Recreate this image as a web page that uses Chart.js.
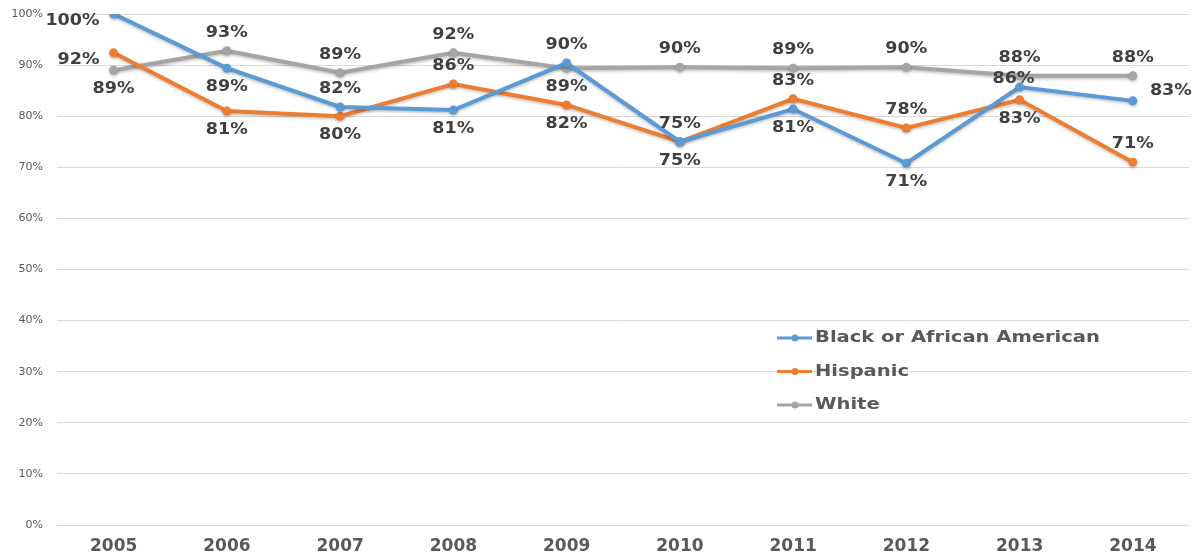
<!DOCTYPE html>
<html>
<head>
<meta charset="utf-8">
<script src="https://cdn.jsdelivr.net/npm/chart.js@4.4.1/dist/chart.umd.min.js"></script>
<style>
  html, body { margin: 0; padding: 0; background: #fff; }
  .wrap { position: relative; width: 1194px; height: 555px; }
</style>
</head>
<body>
<div class="wrap"><canvas id="myChart"></canvas></div>
<script>
const years = ["2005", "2006", "2007", "2008", "2009", "2010", "2011", "2012", "2013", "2014"];
const seriesNames = ["Black or African American", "Hispanic", "White"];
const blackValues = [100, 89.4, 81.8, 81.2, 90.4, 75.0, 81.4, 70.8, 85.7, 83.0];
const hispanicValues = [92.4, 81.0, 80.0, 86.3, 82.2, 75.0, 83.4, 77.7, 83.2, 71.0];
const whiteValues = [89.0, 92.8, 88.5, 92.4, 89.4, 89.6, 89.4, 89.6, 87.9, 87.9];
const yTicks = [0, 10, 20, 30, 40, 50, 60, 70, 80, 90, 100];

// where each data label sits relative to its point
const blackSides = ["left", "below", "above", "below", "above", "below", "below", "below", "near", "right"];
const hispanicSides = ["left", "below", "below", "above", "below", "above", "above", "above", "below", "above"];
const whiteSides = ["below", "above", "above", "above", "below", "above", "above", "above", "above", "above"];

const colors = ["#5B9BD5", "#ED7D31", "#A5A5A5"];

const ctx = document.getElementById("myChart");

// soft shadow under the lines, like the office chart
const lineShadow = {
  id: "lineShadow",
  beforeDatasetsDraw(chart) {
    const c = chart.ctx;
    c.save();
    c.shadowColor = "rgba(0, 0, 0, 0.25)";
    c.shadowBlur = 3;
    c.shadowOffsetY = 1.5;
  },
  afterDatasetsDraw(chart) {
    chart.ctx.restore();
  },
};

const dataLabels = {
  id: "dataLabels",
  afterDatasetsDraw(chart) {
    const c = chart.ctx;
    c.save();
    c.shadowColor = "transparent";
    c.font = "bold 15px 'DejaVu Sans'";
    c.fillStyle = "#404040";
    c.textBaseline = "middle";
    chart.data.datasets.forEach((ds, i) => {
      const meta = chart.getDatasetMeta(i);
      meta.data.forEach((pt, j) => {
        const text = Math.round(ds.data[j]) + "%";
        const side = ds.labelSides[j];
        let x = pt.x, y = pt.y, align = "center";
        if (side === "above") y -= 18;
        if (side === "near") { x -= 6; y -= 8; }
        if (side === "below") y += 19;
        if (side === "left") { x -= 14; y += 7; align = "right"; }
        if (side === "right") { x += 17; y -= 10; align = "left"; }
        c.save();
        c.translate(x, y);
        c.scale(1.17, 1);
        c.textAlign = align;
        c.fillText(text, 0, 0);
        c.restore();
      });
    });
    c.restore();
  },
};

const insideLegend = {
  id: "insideLegend",
  afterDraw(chart) {
    const c = chart.ctx;
    c.save();
    c.font = "bold 16px 'DejaVu Sans'";
    c.textBaseline = "middle";
    chart.data.datasets.forEach((ds, i) => {
      const y = 338 + i * 33.5;
      c.strokeStyle = ds.borderColor;
      c.lineWidth = 3;
      c.beginPath();
      c.moveTo(777, y);
      c.lineTo(812, y);
      c.stroke();
      c.fillStyle = ds.borderColor;
      c.beginPath();
      c.arc(795, y, 3.5, 0, Math.PI * 2);
      c.fill();
      c.fillStyle = "#595959";
      c.save();
      c.translate(815, y);
      c.scale(1.22, 1);
      c.textAlign = "left";
      c.fillText(ds.label, 0, 0);
      c.restore();
    });
    c.restore();
  },
};

const makeSet = (i, values, sides) => ({
  label: seriesNames[i],
  data: values,
  labelSides: sides,
  borderColor: colors[i],
  backgroundColor: colors[i],
  borderWidth: 4,
  pointRadius: 4.5,
  pointHoverRadius: 4.5,
  pointBorderWidth: 0,
  tension: 0,
  fill: false,
});

new Chart(ctx, {
  type: "line",
  data: {
    labels: years,
    datasets: [
      makeSet(0, blackValues, blackSides),
      makeSet(1, hispanicValues, hispanicSides),
      makeSet(2, whiteValues, whiteSides),
    ],
  },
  options: {
    responsive: true,
    maintainAspectRatio: false,
    animation: false,
    layout: { padding: { top: 0, right: -1, bottom: 0, left: 0 } },
    plugins: {
      legend: { display: false },
      tooltip: { enabled: false },
    },
    scales: {
      x: {
        offset: true,
        grid: { display: false, drawTicks: false },
        border: { display: false },
        ticks: {
          padding: 11,
          color: "#595959",
          font: { family: "DejaVu Sans", size: 17, weight: "bold" },
        },
        afterFit: (s) => {
          s.height = 30;
          s.paddingLeft = 0;
          s.paddingRight = 0;
        },
      },
      y: {
        min: 0,
        max: 100,
        afterBuildTicks: (s) => { s.ticks = yTicks.map((v) => ({ value: v })); },
        grid: { color: "#D9D9D9", drawTicks: false, lineWidth: 1 },
        border: { display: false },
        ticks: {
          padding: 14,
          color: "#595959",
          font: { family: "DejaVu Sans", size: 11 },
          callback: (v) => v + "%",
        },
        afterFit: (s) => {
          s.width = 57;
          s.paddingTop = 14;
          s.paddingBottom = 0;
        },
      },
    },
  },
  plugins: [lineShadow, dataLabels, insideLegend],
});
</script>
</body>
</html>
